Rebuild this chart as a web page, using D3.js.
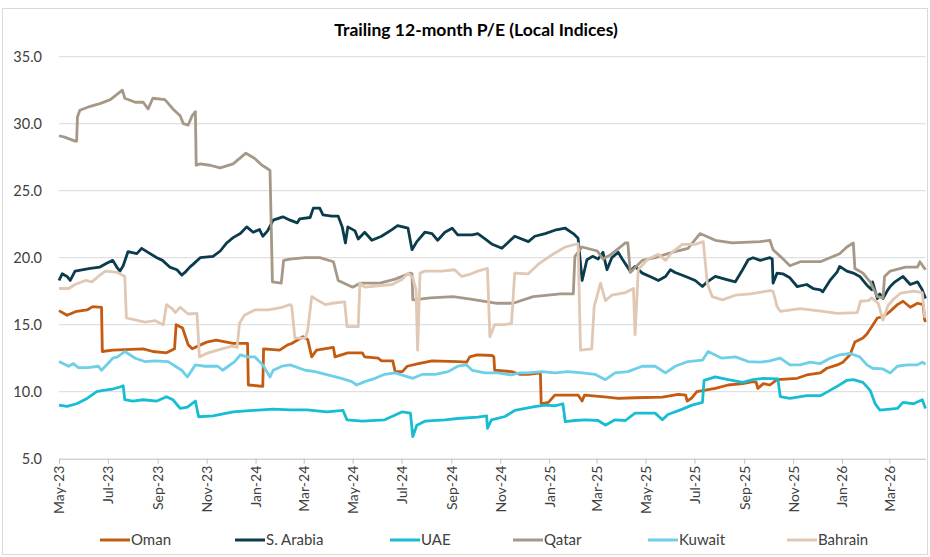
<!DOCTYPE html>
<html>
<head>
<meta charset="utf-8">
<script src="https://cdn.jsdelivr.net/npm/d3@7"></script>
<style>
  body { margin: 0; background: #fff; }
  svg { display: block; font-family: Lato, "Open Sans", sans-serif; }
</style>
</head>
<body>
<svg id="chart" width="930" height="557"></svg>
<script>
// series names, in legend order
const seriesNames = ["Oman", "S. Arabia", "UAE", "Qatar", "Kuwait", "Bahrain"];
const yTicks = [5, 10, 15, 20, 25, 30, 35];

// trailing 12m P/E
const omanPE = [
  ["2023-05-01",16.05],["2023-05-11",15.7],["2023-05-23",16.0],["2023-06-05",16.1],["2023-06-12",16.35],
  ["2023-06-23",16.3],["2023-06-24",13.0],["2023-07-07",13.1],["2023-08-14",13.2],["2023-08-26",13.0],
  ["2023-09-12",12.9],["2023-09-22",13.2],["2023-09-24",15.0],["2023-10-02",14.75],["2023-10-09",13.5],
  ["2023-10-14",13.2],["2023-11-01",13.7],["2023-11-13",13.85],["2023-12-04",13.6],["2023-12-22",13.6],
  ["2023-12-23",10.5],["2024-01-10",10.4],["2024-01-11",13.2],["2024-01-31",13.1],["2024-02-10",13.5],
  ["2024-02-15",13.6],["2024-02-29",14.1],["2024-03-06",13.9],["2024-03-11",12.6],["2024-03-17",13.1],
  ["2024-04-07",13.3],["2024-04-09",12.6],["2024-04-25",12.9],["2024-05-13",12.9],["2024-05-16",12.6],
  ["2024-06-02",12.5],["2024-06-06",12.3],["2024-06-20",12.3],["2024-06-23",11.5],["2024-07-02",11.5],
  ["2024-07-08",11.9],["2024-07-22",12.1],["2024-08-08",12.3],["2024-09-09",12.25],["2024-09-20",12.2],
  ["2024-09-24",12.6],["2024-10-03",12.75],["2024-10-22",12.7],["2024-10-24",12.6],["2024-10-25",11.6],
  ["2024-11-15",11.5],["2024-11-25",11.3],["2024-12-06",11.3],["2024-12-21",11.4],["2024-12-22",9.1],
  ["2024-12-31",9.2],["2025-01-08",9.75],["2025-02-06",9.75],["2025-02-11",9.3],["2025-02-14",9.75],
  ["2025-03-14",9.6],["2025-03-28",9.5],["2025-04-18",9.55],["2025-05-22",9.6],["2025-06-11",9.8],
  ["2025-06-20",9.75],["2025-06-22",9.3],["2025-06-28",9.55],["2025-07-04",10.0],["2025-07-27",10.25],
  ["2025-08-12",10.5],["2025-08-30",10.6],["2025-09-12",10.75],["2025-09-16",10.7],["2025-09-18",10.25],
  ["2025-09-25",10.6],["2025-10-03",10.5],["2025-10-12",10.9],["2025-11-06",11.0],["2025-11-18",11.25],
  ["2025-12-05",11.4],["2025-12-13",11.75],["2025-12-26",12.0],["2026-01-02",12.2],["2026-01-11",12.75],
  ["2026-01-17",13.7],["2026-01-27",14.0],["2026-02-01",14.3],["2026-02-07",14.85],["2026-02-14",15.5],
  ["2026-02-21",15.6],["2026-03-02",16.0],["2026-03-11",16.5],["2026-03-18",16.75],["2026-03-27",16.3],
  ["2026-04-05",16.6],["2026-04-12",16.5],["2026-04-14",15.35],["2026-04-15",15.2]
];

const saudiPE = [
  ["2023-05-01",18.3],["2023-05-05",18.8],["2023-05-11",18.6],["2023-05-15",18.3],["2023-05-21",19.0],
  ["2023-06-09",19.2],["2023-06-21",19.3],["2023-06-30",19.6],["2023-07-07",19.8],["2023-07-12",19.3],
  ["2023-07-16",19.0],["2023-07-20",19.4],["2023-07-26",20.45],["2023-08-06",20.3],["2023-08-12",20.7],
  ["2023-08-20",20.4],["2023-08-31",20.0],["2023-09-07",19.8],["2023-09-16",19.3],["2023-09-25",19.1],
  ["2023-10-01",18.7],["2023-10-05",18.9],["2023-10-11",19.3],["2023-10-15",19.5],["2023-10-24",20.0],
  ["2023-11-09",20.1],["2023-11-18",20.5],["2023-11-26",21.1],["2023-12-04",21.5],["2023-12-13",21.8],
  ["2023-12-21",22.3],["2023-12-29",21.9],["2024-01-06",22.1],["2024-01-10",21.6],["2024-01-16",22.0],
  ["2024-01-23",22.8],["2024-02-04",23.05],["2024-02-13",22.8],["2024-02-22",22.6],["2024-02-25",22.9],
  ["2024-03-09",23.0],["2024-03-13",23.7],["2024-03-21",23.7],["2024-03-25",23.2],["2024-04-05",23.1],
  ["2024-04-13",23.1],["2024-04-18",22.3],["2024-04-22",21.1],["2024-04-25",22.3],["2024-05-04",22.0],
  ["2024-05-08",21.4],["2024-05-16",21.9],["2024-05-25",21.3],["2024-06-06",21.6],["2024-06-19",22.1],
  ["2024-06-26",22.4],["2024-07-09",22.2],["2024-07-14",20.6],["2024-07-20",21.2],["2024-07-30",21.9],
  ["2024-08-08",21.8],["2024-08-15",21.3],["2024-08-24",21.9],["2024-09-02",22.2],["2024-09-09",21.7],
  ["2024-09-27",21.7],["2024-10-04",21.8],["2024-10-13",21.4],["2024-10-22",21.0],["2024-11-03",20.7],
  ["2024-11-10",21.1],["2024-11-19",21.6],["2024-12-06",21.2],["2024-12-14",21.6],["2024-12-27",21.8],
  ["2025-01-08",22.05],["2025-01-21",22.2],["2025-01-31",21.8],["2025-02-06",21.45],["2025-02-11",18.3],
  ["2025-02-17",19.85],["2025-02-24",20.1],["2025-03-03",19.9],["2025-03-09",20.4],["2025-03-14",19.1],
  ["2025-03-20",20.0],["2025-03-28",20.4],["2025-04-02",19.9],["2025-04-12",19.0],["2025-04-18",19.35],
  ["2025-04-27",18.85],["2025-05-10",18.5],["2025-05-17",18.3],["2025-05-26",18.6],["2025-06-01",19.1],
  ["2025-06-07",18.9],["2025-06-20",18.6],["2025-07-02",18.3],["2025-07-11",17.85],["2025-07-17",18.2],
  ["2025-07-27",18.6],["2025-08-08",18.4],["2025-08-21",18.2],["2025-08-30",19.1],["2025-09-06",19.85],
  ["2025-09-12",20.0],["2025-09-21",19.8],["2025-10-03",20.0],["2025-10-06",19.9],["2025-10-07",18.1],
  ["2025-10-12",18.85],["2025-10-19",18.8],["2025-10-28",18.5],["2025-11-06",17.85],["2025-11-18",18.0],
  ["2025-11-26",17.7],["2025-12-05",17.6],["2025-12-08",17.45],["2025-12-17",18.3],["2025-12-26",18.95],
  ["2025-12-29",19.35],["2026-01-07",19.0],["2026-01-15",18.85],["2026-01-23",18.6],["2026-02-01",17.95],
  ["2026-02-07",17.6],["2026-02-08",18.2],["2026-02-14",16.95],["2026-02-17",17.3],["2026-02-21",16.95],
  ["2026-02-27",17.6],["2026-03-02",17.85],["2026-03-08",18.2],["2026-03-18",18.6],["2026-03-27",18.0],
  ["2026-04-05",18.2],["2026-04-11",17.6],["2026-04-15",16.95]
];

const uaePE = [
  ["2023-05-01",9.0],["2023-05-11",8.9],["2023-05-23",9.1],["2023-06-05",9.5],["2023-06-17",10.0],
  ["2023-06-25",10.1],["2023-07-07",10.2],["2023-07-16",10.35],["2023-07-20",10.45],["2023-07-22",9.4],
  ["2023-08-01",9.3],["2023-08-14",9.4],["2023-08-31",9.3],["2023-09-12",9.63],["2023-09-20",9.4],
  ["2023-09-29",8.76],["2023-10-08",8.85],["2023-10-18",9.3],["2023-10-22",8.13],["2023-11-09",8.2],
  ["2023-12-04",8.5],["2023-12-29",8.6],["2024-01-23",8.7],["2024-02-13",8.65],["2024-03-05",8.65],
  ["2024-03-30",8.5],["2024-04-19",8.6],["2024-04-24",7.9],["2024-05-13",7.8],["2024-06-10",7.9],
  ["2024-07-02",8.5],["2024-07-12",8.4],["2024-07-15",6.65],["2024-07-20",7.5],["2024-07-30",7.8],
  ["2024-08-24",7.9],["2024-09-09",8.0],["2024-10-04",8.1],["2024-10-15",8.2],["2024-10-16",7.27],
  ["2024-10-21",7.9],["2024-11-07",8.15],["2024-11-19",8.6],["2024-12-14",8.88],["2024-12-27",9.0],
  ["2025-01-08",8.95],["2025-01-18",9.1],["2025-01-21",7.76],["2025-02-02",7.85],["2025-02-15",7.9],
  ["2025-03-03",7.85],["2025-03-12",7.5],["2025-03-24",7.9],["2025-04-06",7.85],["2025-04-18",8.4],
  ["2025-05-13",8.4],["2025-05-22",7.9],["2025-05-29",8.3],["2025-06-16",8.7],["2025-06-28",9.0],
  ["2025-07-11",9.2],["2025-07-13",10.85],["2025-07-27",11.1],["2025-08-12",10.9],["2025-08-30",10.7],
  ["2025-09-12",10.9],["2025-09-25",11.0],["2025-10-13",10.95],["2025-10-16",9.63],["2025-10-28",9.5],
  ["2025-11-18",9.7],["2025-12-05",9.7],["2025-12-17",10.1],["2025-12-26",10.4],["2026-01-07",10.85],
  ["2026-01-15",10.9],["2026-01-27",10.7],["2026-02-05",10.1],["2026-02-11",9.13],["2026-02-17",8.63],
  ["2026-03-02",8.7],["2026-03-11",8.75],["2026-03-18",9.2],["2026-03-31",9.1],["2026-04-11",9.4],
  ["2026-04-15",8.75]
];

const qatarPE = [
  ["2023-05-01",29.1],["2023-05-08",29.0],["2023-05-21",28.7],["2023-05-23",28.7],["2023-05-24",30.5],
  ["2023-05-27",31.0],["2023-06-09",31.3],["2023-06-21",31.5],["2023-07-04",31.8],["2023-07-19",32.5],
  ["2023-07-22",31.9],["2023-08-04",31.6],["2023-08-14",31.6],["2023-08-20",31.1],["2023-08-26",31.9],
  ["2023-09-10",31.8],["2023-09-20",31.1],["2023-09-29",30.6],["2023-10-03",30.0],["2023-10-09",29.9],
  ["2023-10-14",30.6],["2023-10-18",30.9],["2023-10-19",26.9],["2023-10-24",27.0],["2023-11-05",26.9],
  ["2023-11-18",26.7],["2023-12-04",27.0],["2023-12-20",27.8],["2023-12-31",27.4],["2024-01-09",26.9],
  ["2024-01-17",26.6],["2024-01-19",26.5],["2024-01-22",18.2],["2024-02-02",18.1],["2024-02-05",19.8],
  ["2024-02-13",19.9],["2024-03-03",20.0],["2024-03-21",20.0],["2024-04-07",19.7],["2024-04-13",18.3],
  ["2024-05-01",17.8],["2024-05-10",18.1],["2024-06-04",18.1],["2024-06-23",18.4],["2024-07-12",18.85],
  ["2024-07-14",18.8],["2024-07-15",16.85],["2024-08-06",17.0],["2024-09-03",17.1],["2024-09-25",16.9],
  ["2024-10-28",16.6],["2024-11-17",16.6],["2024-12-12",17.1],["2025-01-15",17.3],["2025-01-31",17.3],
  ["2025-02-02",20.1],["2025-02-11",20.8],["2025-03-02",20.5],["2025-03-09",19.9],["2025-03-18",20.2],
  ["2025-04-06",21.1],["2025-04-09",21.1],["2025-04-12",18.9],["2025-04-27",19.8],["2025-05-13",20.0],
  ["2025-06-03",20.4],["2025-06-23",20.7],["2025-07-08",21.8],["2025-07-27",21.3],["2025-08-17",21.1],
  ["2025-09-21",21.2],["2025-10-03",21.3],["2025-10-07",20.6],["2025-10-16",20.1],["2025-10-28",19.4],
  ["2025-11-10",19.7],["2025-12-05",19.7],["2025-12-29",20.3],["2026-01-07",20.8],["2026-01-15",21.1],
  ["2026-01-17",19.2],["2026-01-27",18.85],["2026-02-05",18.2],["2026-02-14",17.1],["2026-02-21",17.0],
  ["2026-02-23",18.6],["2026-03-02",19.0],["2026-03-21",19.3],["2026-04-05",19.3],["2026-04-08",19.7],
  ["2026-04-15",19.1]
];

const kuwaitPE = [
  ["2023-05-01",12.25],["2023-05-13",11.9],["2023-05-19",12.1],["2023-05-25",11.8],["2023-06-06",11.8],
  ["2023-06-19",11.9],["2023-06-23",11.6],["2023-07-01",12.1],["2023-07-07",12.5],["2023-07-13",12.6],
  ["2023-07-22",13.0],["2023-08-04",12.5],["2023-08-16",12.25],["2023-08-29",12.3],["2023-09-14",12.25],
  ["2023-09-23",11.9],["2023-10-01",11.6],["2023-10-08",11.1],["2023-10-18",12.0],["2023-10-30",11.9],
  ["2023-11-15",11.9],["2023-11-21",11.6],["2023-11-28",11.9],["2023-12-06",12.25],["2023-12-13",12.75],
  ["2023-12-22",12.6],["2023-12-31",12.6],["2024-01-10",12.0],["2024-01-19",11.1],["2024-01-23",11.6],
  ["2024-02-03",11.9],["2024-02-13",12.0],["2024-03-03",11.6],["2024-03-15",11.5],["2024-03-31",11.25],
  ["2024-04-17",11.0],["2024-04-30",10.75],["2024-05-06",10.5],["2024-05-16",10.75],["2024-05-29",11.0],
  ["2024-06-10",11.3],["2024-06-23",11.4],["2024-07-15",11.0],["2024-07-27",11.3],["2024-08-12",11.3],
  ["2024-08-28",11.5],["2024-09-09",11.9],["2024-09-20",12.0],["2024-09-27",11.6],["2024-10-13",11.4],
  ["2024-10-29",11.4],["2024-11-15",11.25],["2024-11-25",11.4],["2024-12-06",11.4],["2024-12-23",11.5],
  ["2025-01-08",11.4],["2025-01-24",11.5],["2025-02-11",11.4],["2025-02-27",11.3],["2025-03-12",10.9],
  ["2025-03-24",11.4],["2025-04-09",11.5],["2025-04-27",11.9],["2025-05-13",11.9],["2025-05-26",11.4],
  ["2025-06-07",11.9],["2025-06-23",12.25],["2025-07-11",12.35],["2025-07-18",13.0],["2025-08-04",12.5],
  ["2025-08-21",12.6],["2025-09-06",12.25],["2025-09-21",12.2],["2025-10-03",12.3],["2025-10-16",12.5],
  ["2025-10-28",12.0],["2025-11-10",12.0],["2025-11-22",12.2],["2025-12-05",12.1],["2025-12-17",12.5],
  ["2025-12-29",12.75],["2026-01-11",12.85],["2026-01-23",12.6],["2026-02-01",12.0],["2026-02-08",11.75],
  ["2026-02-21",11.7],["2026-03-02",11.4],["2026-03-11",11.9],["2026-03-23",12.0],["2026-04-05",12.0],
  ["2026-04-11",12.2],["2026-04-15",12.05]
];

const bahrainPE = [
  ["2023-05-01",17.7],["2023-05-13",17.7],["2023-05-21",18.0],["2023-06-03",18.3],["2023-06-11",18.2],
  ["2023-06-19",18.6],["2023-06-28",19.0],["2023-07-13",18.9],["2023-07-22",18.6],["2023-07-24",15.5],
  ["2023-08-01",15.4],["2023-08-16",15.2],["2023-08-29",15.3],["2023-09-08",15.0],["2023-09-12",16.5],
  ["2023-09-19",16.2],["2023-09-23",15.9],["2023-09-29",16.3],["2023-10-09",15.8],["2023-10-20",15.85],
  ["2023-10-23",12.6],["2023-11-03",12.9],["2023-11-20",13.2],["2023-12-03",13.4],["2023-12-09",13.3],
  ["2023-12-12",15.1],["2023-12-18",15.7],["2023-12-31",16.1],["2024-01-17",16.1],["2024-02-03",16.3],
  ["2024-02-13",16.5],["2024-02-15",16.4],["2024-02-19",14.0],["2024-03-03",14.0],["2024-03-06",14.6],
  ["2024-03-11",17.1],["2024-03-19",16.8],["2024-03-28",16.5],["2024-04-05",16.6],["2024-04-21",16.7],
  ["2024-04-24",14.85],["2024-05-08",14.85],["2024-05-10",18.1],["2024-05-16",17.8],["2024-06-02",17.9],
  ["2024-06-19",18.0],["2024-07-02",18.4],["2024-07-09",18.85],["2024-07-15",18.5],["2024-07-19",17.6],
  ["2024-07-21",13.1],["2024-07-24",18.85],["2024-07-30",19.0],["2024-08-20",19.0],["2024-09-05",19.1],
  ["2024-09-14",18.6],["2024-09-26",18.8],["2024-10-04",19.0],["2024-10-16",19.2],["2024-10-19",14.1],
  ["2024-10-25",15.0],["2024-11-07",15.0],["2024-11-15",15.1],["2024-11-19",18.85],["2024-12-06",18.8],
  ["2024-12-18",19.5],["2025-01-04",20.2],["2025-01-21",20.8],["2025-02-06",21.05],["2025-02-09",13.1],
  ["2025-02-23",13.2],["2025-02-26",16.35],["2025-03-06",18.1],["2025-03-12",16.8],["2025-03-20",17.2],
  ["2025-04-06",17.4],["2025-04-16",17.7],["2025-04-18",14.25],["2025-04-22",19.1],["2025-05-04",19.9],
  ["2025-05-17",20.25],["2025-05-26",19.8],["2025-06-03",20.4],["2025-06-16",21.0],["2025-07-02",21.0],
  ["2025-07-12",21.2],["2025-07-17",18.1],["2025-07-23",17.1],["2025-08-05",16.85],["2025-08-21",17.2],
  ["2025-09-09",17.3],["2025-10-03",17.55],["2025-10-07",17.5],["2025-10-12",16.35],["2025-10-16",16.0],
  ["2025-11-10",16.2],["2025-12-08",16.0],["2025-12-26",15.85],["2026-01-20",15.9],["2026-01-24",16.75],
  ["2026-02-03",16.8],["2026-02-07",17.0],["2026-02-15",16.6],["2026-02-21",15.35],["2026-02-27",16.4],
  ["2026-03-06",16.9],["2026-03-15",17.35],["2026-03-31",17.5],["2026-04-11",17.4],["2026-04-14",15.6],
  ["2026-04-15",15.7]
];

const seriesData = [omanPE, saudiPE, uaePE, qatarPE, kuwaitPE, bahrainPE];
const seriesColors = ["#c55a11", "#0b3c4d", "#17bdd3", "#a69886", "#6ecfe9", "#e0c8b4"];

const parseDate = d3.timeParse("%Y-%m-%d");
const svg = d3.select("#chart");
const textColor = "#404040";

// chart border
svg.append("rect")
  .attr("x", 2.5).attr("y", 8.5)
  .attr("width", 925).attr("height", 546)
  .attr("fill", "none")
  .attr("stroke", "#d9d9d9");

// title
svg.append("text")
  .attr("x", 476).attr("y", 36)
  .attr("text-anchor", "middle")
  .attr("font-size", 17.5)
  .attr("font-weight", "bold")
  .attr("fill", "#000")
  .text("Trailing 12-month P/E (Local Indices)");

const x = d3.scaleTime()
  .domain([parseDate("2023-05-01"), parseDate("2026-04-15")])
  .range([59, 925.5]);

const y = d3.scaleLinear()
  .domain([5, 35])
  .range([458.7, 56.7]);

// gridlines
svg.append("g")
  .selectAll("line")
  .data(yTicks.filter(d => d > 5))
  .join("line")
  .attr("x1", 59).attr("x2", 925.5)
  .attr("y1", d => y(d)).attr("y2", d => y(d))
  .attr("stroke", "#d9d9d9")
  .attr("stroke-width", 1);

// y axis labels
const yAxis = svg.append("g")
  .attr("transform", "translate(59,0)")
  .call(d3.axisLeft(y).tickValues(yTicks).tickFormat(d3.format(".1f")).tickSize(0).tickPadding(17));
yAxis.select(".domain").remove();
yAxis.selectAll("text")
  .attr("font-family", "Lato, 'Open Sans', sans-serif")
  .attr("font-size", 14.5)
  .attr("fill", textColor);

// x axis
const xAxis = svg.append("g")
  .attr("transform", `translate(0,${y(5)})`)
  .call(d3.axisBottom(x)
    .ticks(d3.timeMonth.every(2))
    .tickFormat(d3.timeFormat("%b-%y"))
    .tickSize(5)
    .tickSizeOuter(0));
xAxis.select(".domain").attr("stroke", "#bfbfbf");
xAxis.selectAll(".tick line").attr("stroke", "#bfbfbf");
xAxis.selectAll("text")
  .attr("font-family", "Lato, 'Open Sans', sans-serif")
  .attr("font-size", 14)
  .attr("fill", textColor)
  .attr("text-anchor", "end")
  .attr("transform", "rotate(-90)")
  .attr("x", -7)
  .attr("y", 0)
  .attr("dy", "0.35em");

// lines
const line = d3.line()
  .x(d => x(parseDate(d[0])))
  .y(d => y(d[1]));

svg.append("g")
  .selectAll("path")
  .data(seriesData)
  .join("path")
  .attr("d", line)
  .attr("fill", "none")
  .attr("stroke", (d, i) => seriesColors[i])
  .attr("stroke-width", 2.8)
  .attr("stroke-linejoin", "round");

// legend
const legendX = [100, 235, 390, 513, 648, 787];
const legend = svg.append("g")
  .selectAll("g")
  .data(seriesNames)
  .join("g")
  .attr("transform", (d, i) => `translate(${legendX[i]},540)`);

legend.append("line")
  .attr("x1", 0).attr("x2", 30)
  .attr("stroke", (d, i) => seriesColors[i])
  .attr("stroke-width", 3);

legend.append("text")
  .attr("x", 31)
  .attr("dy", "0.35em")
  .attr("font-size", 15)
  .attr("fill", textColor)
  .text(d => d);
</script>
</body>
</html>
